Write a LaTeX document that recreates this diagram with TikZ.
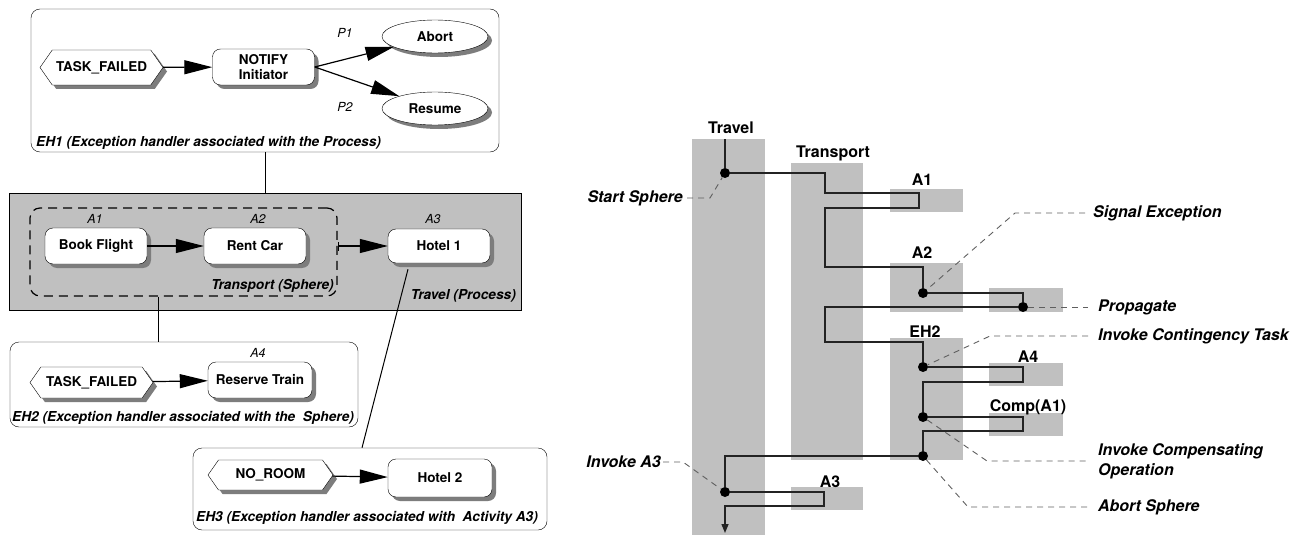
\documentclass[tikz,border=0pt]{standalone}
\usepackage{fontspec}
\setmainfont{TeX Gyre Heros}
\usetikzlibrary{shapes.geometric,shapes.symbols,shadows,arrows.meta,calc}
\definecolor{fillgray}{RGB}{192,192,192}
\definecolor{shadowgray}{RGB}{125,125,125}
\definecolor{leadgray}{RGB}{95,95,95}
\definecolor{linedark}{RGB}{35,35,35}
\begin{document}
\begin{tikzpicture}[x=1pt,y=-1pt,
  shad/.style={drop shadow={shadow xshift=4pt,shadow yshift=-4pt,fill=shadowgray,opacity=1}},
  task/.style={draw=black,fill=white,rounded corners=8pt,minimum width=102pt,minimum height=36pt,
    inner sep=1pt,align=center,font=\fontsize{13.5}{15}\selectfont\bfseries,shad},
  event/.style={signal,signal to=west and east,signal pointer angle=110,draw=black,fill=white,
    minimum width=123pt,minimum height=35pt,inner xsep=2pt,font=\fontsize{13.5}{15}\selectfont\bfseries,shad},
  outcome/.style={ellipse,draw=black,fill=white,minimum width=106pt,minimum height=33pt,inner sep=0pt,
    font=\fontsize{13.5}{15}\selectfont\bfseries,shad},
  handler/.style={draw=black,rounded corners=9pt,fill=white,inner sep=0pt},
  hlabel/.style={font=\fontsize{13.7}{15}\selectfont\bfseries\itshape,inner sep=0pt},
  alabel/.style={font=\fontsize{12.5}{14}\selectfont\itshape,inner sep=0pt},
  bigarrow/.style={-{Triangle[length=28pt,width=14pt]},line width=1.2pt},
  col/.style={fill=fillgray},
  clab/.style={font=\fontsize{16}{19}\selectfont\bfseries,inner sep=0pt},
  rlab/.style={font=\fontsize{16}{20}\selectfont\bfseries\itshape,inner sep=0pt,align=left},
  flow/.style={draw=linedark,line width=1.4pt},
  dot/.style={circle,fill=black,inner sep=0pt,minimum size=10pt},
  lead/.style={draw=leadgray,dash pattern=on 6pt off 5pt,line width=0.9pt}
]
\useasboundingbox (0,0) rectangle (1302,535);

% ---------------- left: EH1 ----------------
\node[handler,minimum width=468pt,minimum height=143pt] (eh1) at (265,80.5) {};
\node[event] (tf1) at (101.5,67.5) {TASK\_FAILED};
\node[task] (notify) at (263.5,67) {NOTIFY\\Initiator};
\node[outcome] (abort) at (435,36.5) {Abort};
\node[outcome] (resume) at (435,108.5) {Resume};
\node[alabel] (p1) at (345,33) {P1};
\node[alabel] (p2) at (345,107) {P2};
\node[hlabel,anchor=west] (eh1lab) at (36,142.5) {EH1 (Exception handler associated with the Process)};
\draw[bigarrow] (tf1) -- (notify);
\draw[bigarrow] (notify.east) -- (abort);
\draw[bigarrow] (notify.east) -- (resume);

% ---------------- left: Travel process ----------------
\node[draw=black,line width=1pt,fill=fillgray,minimum width=512pt,minimum height=117pt,inner sep=0pt] (travel) at (265,251.5) {};
\draw[line width=1pt] (eh1.south) -- (travel.north);
\node[draw=black,dash pattern=on 9pt off 6pt,line width=1.2pt,rounded corners=10pt,minimum width=307pt,minimum height=88pt,inner sep=0pt] (sphere) at (183.5,252) {};
\node[task] (bookf) at (96,246) {Book Flight};
\node[task] (rentcar) at (255,246) {Rent Car};
\node[task,minimum height=34pt] (hotel1) at (439,246) {Hotel 1};
\node[alabel] (a1lab) at (95,219) {A1};
\node[alabel] (a2lab) at (258,219) {A2};
\node[alabel] (a3lab) at (433,219) {A3};
\node[hlabel,anchor=east] (sphlab) at (334,286) {Transport (Sphere)};
\node[hlabel,anchor=east] (trvlab) at (516,296) {Travel (Process)};
\draw[bigarrow] (bookf) -- (rentcar);
\draw[bigarrow,{Bar[width=9pt]}-{Triangle[length=28pt,width=14pt]}] (sphere.east |- hotel1.west) -- (hotel1.west);

% ---------------- left: EH2 ----------------
\node[handler,minimum width=348pt,minimum height=85pt] (eh2) at (184,384.5) {};
\draw[line width=1pt] ($(sphere.south)+(-25.5,0)$) -- ($(eh2.north)+(-26,0)$);
\node[event,minimum height=31pt] (tf2) at (91.5,382.5) {TASK\_FAILED};
\node[task,minimum width=104pt] (reserve) at (260,380) {Reserve Train};
\node[alabel] (a4lab) at (258,353) {A4};
\node[hlabel,anchor=west] (eh2lab) at (12,418) {EH2 (Exception handler associated with the~ Sphere)};
\draw[bigarrow] (tf2) -- (reserve);

% ---------------- left: EH3 ----------------
\node[handler,minimum width=354pt,minimum height=82pt] (eh3) at (370,489) {};
\draw[line width=1pt] ($(hotel1.south)+(-31,6)$) -- ($(eh3.north)+(-8,0)$);
\node[event,minimum width=125pt,minimum height=30pt] (noroom) at (270.5,475) {NO\_ROOM};
\node[task,minimum width=104pt,minimum height=38pt] (hotel2) at (440,478) {Hotel 2};
\node[hlabel,anchor=west] (eh3lab) at (196,518) {EH3 (Exception handler associated with~ Activity A3)};
\draw[bigarrow] (noroom) -- (hotel2);

% ---------------- right: timeline ----------------
\fill[col] (692,139) rectangle (765,535);
\fill[col] (791,163) rectangle (863,460);
\fill[col] (890,189) rectangle (963,212);
\fill[col] (890,263) rectangle (963,312);
\fill[col] (989,288) rectangle (1063,312);
\fill[col] (890,338) rectangle (963,460);
\fill[col] (989,363) rectangle (1063,386);
\fill[col] (989,413) rectangle (1063,436);
\fill[col] (791,487) rectangle (863,510);

\node[clab] (cTravel) at (731,128) {Travel};
\node[clab] (cTransport) at (833,153) {Transport};
\node[clab] (cA1) at (922,180) {A1};
\node[clab] (cA2) at (922,253) {A2};
\node[clab] (cEH2) at (925,332) {EH2};
\node[clab] (cA4) at (1028,357) {A4};
\node[clab] (cComp) at (1028,407) {Comp(A1)};
\node[clab] (cA3) at (830,482) {A3};

\node[dot] (sStart) at (725,173) {};
\node[dot] (dA2) at (923,293) {};
\node[dot] (dProp) at (1023,307) {};
\node[dot] (dE1) at (923,367) {};
\node[dot] (dE2) at (923,417) {};
\node[dot] (dE3) at (923,456) {};
\node[dot] (dA3) at (725,492) {};
\coordinate (tTop) at (725,139);
\coordinate (tEnd) at (725,533);

\draw[flow] (tTop) -- (sStart);
\draw[flow] (sStart) -- (825,173) -- (825,193) -- (919,193) -- (919,208) -- (825,208) -- (825,267) -- (923,267) -- (dA2);
\draw[flow] (dA2) -- (1023,293) -- (dProp);
\draw[flow] (dProp) -- (825,307) -- (825,342) -- (923,342) -- (dE1);
\draw[flow] (dE1) -- (1023,367) -- (1023,382) -- (923,382) -- (dE2);
\draw[flow] (dE2) -- (1023,417) -- (1023,431) -- (923,431) -- (dE3);
\draw[flow] (dE3) -- (725,456) -- (dA3);
\draw[flow,-{Triangle[length=9pt,width=7pt]}] (dA3) -- (824,492) -- (824,506) -- (725,506) -- (tEnd);

\node[rlab,anchor=east] (lStart) at (683,198) {Start Sphere};
\node[rlab,anchor=west] (lSig) at (1093,213) {Signal Exception};
\node[rlab,anchor=west] (lProp) at (1098,307) {Propagate};
\node[rlab,anchor=west] (lCont) at (1098,336) {Invoke Contingency Task};
\node[rlab,anchor=west] (lComp) at (1098,461) {Invoke Compensating\\Operation};
\node[rlab,anchor=west] (lAbort) at (1098,507) {Abort Sphere};
\node[rlab,anchor=east] (lInvA3) at (661,462) {Invoke A3};

\draw[lead] ($(lStart.east)+(4,0)$) -- (710,198) -- (sStart);
\draw[lead] ($(lSig.west)+(-8,0)$) -- (1015,213) -- (dA2);
\draw[lead] (dProp) -- ($(lProp.west)+(-10,0)$);
\draw[lead] ($(lCont.west)+(-10,0)$) -- (990,336) -- (dE1);
\draw[lead] (dE2) -- (987,461) -- ($(lComp.west)+(-8,0)$);
\draw[lead] (dE3) -- (968,507) -- ($(lAbort.west)+(-8,0)$);
\draw[lead] ($(lInvA3.east)+(2,0)$) -- (683,462) -- (dA3);
\end{tikzpicture}
\end{document}
